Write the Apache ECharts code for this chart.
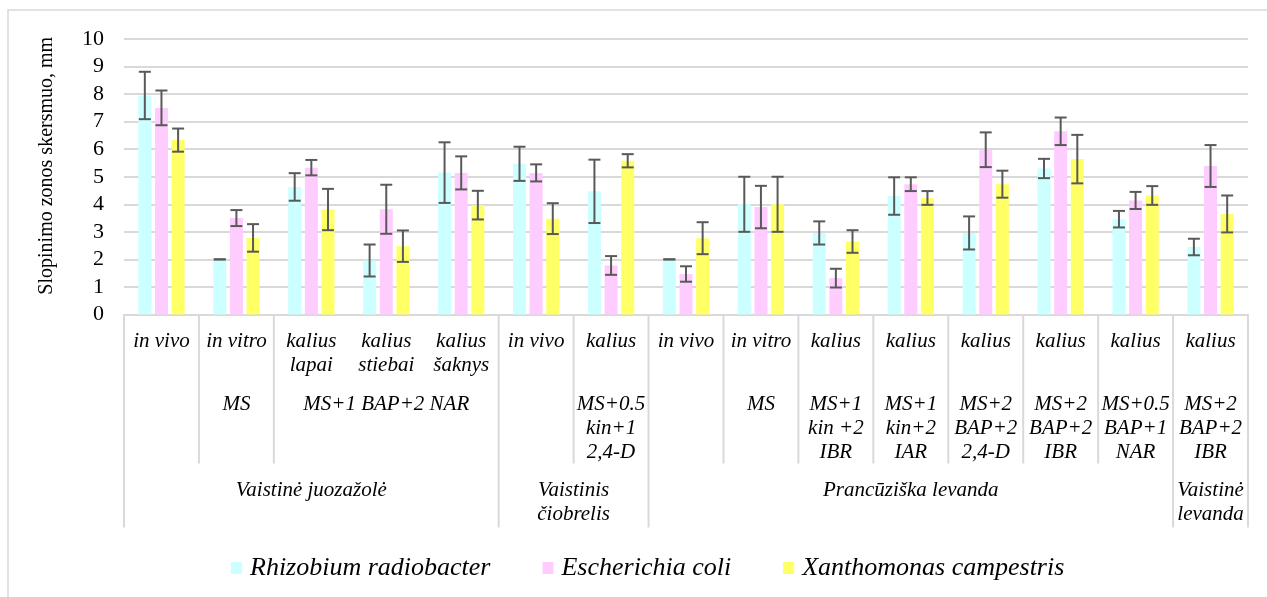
<!DOCTYPE html>
<html>
<head>
<meta charset="utf-8">
<script src="https://cdn.jsdelivr.net/npm/echarts@6/dist/echarts.min.js"></script>
<style>
  html, body { margin: 0; padding: 0; background: #fff; }
  #chart { width: 1267px; height: 597px; }
</style>
</head>
<body>
<div id="chart"></div>
<script>
// Inhibition zone diameters (mm) with standard deviations, three bacteria per sample.
const categories = ['in vivo', 'in vitro', 'kalius\nlapai', 'kalius\nstiebai', 'kalius\nšaknys',
  'in vivo', 'kalius', 'in vivo', 'in vitro', 'kalius', 'kalius', 'kalius', 'kalius', 'kalius', 'kalius'];

// Second label row (growth medium) and how many samples each label spans
const level2Labels = ['', 'MS', 'MS+1 BAP+2 NAR', '', 'MS+0.5\nkin+1\n2,4-D', '', 'MS',
  'MS+1\nkin +2\nIBR', 'MS+1\nkin+2\nIAR', 'MS+2\nBAP+2\n2,4-D', 'MS+2\nBAP+2\nIBR',
  'MS+0.5\nBAP+1\nNAR', 'MS+2\nBAP+2\nIBR'];
const level2Spans = [1, 1, 3, 1, 1, 1, 1, 1, 1, 1, 1, 1, 1];

// Third label row (plant species)
const level3Labels = ['Vaistinė juozažolė', 'Vaistinis\nčiobrelis', 'Prancūziška levanda', 'Vaistinė\nlevanda'];
const level3Spans = [5, 2, 7, 1];

const seriesNames = ['Rhizobium radiobacter', 'Escherichia coli', 'Xanthomonas campestris'];
const yTitle = 'Slopinimo zonos skersmuo, mm';

const rhizobiumMean = [7.95, 2.0, 4.63, 1.96, 5.15, 5.47, 4.47, 2.0, 4.0, 2.96, 4.3, 2.96, 5.3, 3.46, 2.45];
const rhizobiumErr  = [0.86, 0, 0.5, 0.58, 1.1, 0.62, 1.15, 0, 1.0, 0.42, 0.68, 0.6, 0.35, 0.3, 0.3];

const ecoliMean = [7.5, 3.5, 5.33, 3.82, 5.14, 5.14, 1.78, 1.47, 3.9, 1.32, 4.73, 5.98, 6.65, 4.14, 5.39];
const ecoliErr  = [0.63, 0.29, 0.28, 0.89, 0.6, 0.31, 0.34, 0.28, 0.77, 0.34, 0.25, 0.63, 0.5, 0.31, 0.76];

const xanthoMean = [6.33, 2.78, 3.81, 2.48, 3.97, 3.48, 5.58, 2.77, 4.0, 2.65, 4.23, 4.73, 5.64, 4.32, 3.65];
const xanthoErr  = [0.42, 0.5, 0.75, 0.57, 0.52, 0.56, 0.24, 0.58, 1.0, 0.41, 0.25, 0.49, 0.88, 0.34, 0.67];

const yTicks = [0, 10, 1]; // min, max, step

const means = [rhizobiumMean, ecoliMean, xanthoMean];
const errs = [rhizobiumErr, ecoliErr, xanthoErr];
const colors = ['#CCFFFF', '#FFCCFF', '#FFFF66'];

const BAR_W = 13;
const BAR_GAP = 0.28;
const STEP = BAR_W * (1 + BAR_GAP);
const FONT = 'Liberation Serif';
const GRID_COLOR = '#d9d9d9';

const chart = echarts.init(document.getElementById('chart'), null, { renderer: 'canvas' });

const barSeries = seriesNames.map((name, s) => ({
  name: name,
  type: 'bar',
  data: means[s],
  barWidth: BAR_W,
  barGap: (BAR_GAP * 100) + '%',
  itemStyle: { color: colors[s] },
  emphasis: { disabled: true },
  z: 2
}));

// error bars (± SD) centred on each bar
const errSeries = seriesNames.map((name, s) => ({
  name: name + ' SD',
  type: 'custom',
  data: means[s].map((m, i) => [i, m, errs[s][i]]),
  z: 5,
  silent: true,
  renderItem: function (params, api) {
    const i = api.value(0), m = api.value(1), e = api.value(2);
    const x = api.coord([i, m])[0] + (s - 1) * STEP;
    const yTop = api.coord([i, m + e])[1];
    const yBot = api.coord([i, m - e])[1];
    const half = 6;
    const style = { stroke: '#595959', lineWidth: 2 };
    return {
      type: 'group',
      children: [
        { type: 'line', shape: { x1: x, y1: yTop, x2: x, y2: yBot }, style: style },
        { type: 'line', shape: { x1: x - half, y1: yTop, x2: x + half, y2: yTop }, style: style },
        { type: 'line', shape: { x1: x - half, y1: yBot, x2: x + half, y2: yBot }, style: style }
      ]
    };
  }
}));

chart.setOption({
  animation: false,
  backgroundColor: '#ffffff',
  textStyle: { fontFamily: FONT },
  grid: { left: 124, right: 19, top: 39, bottom: 282.5 },
  legend: {
    data: seriesNames,
    left: 226,
    top: 550,
    icon: 'rect',
    itemWidth: 11,
    itemHeight: 12,
    itemGap: 52,
    selectedMode: false,
    textStyle: { fontFamily: FONT, fontSize: 26, fontStyle: 'italic', color: '#000', padding: [0, 0, 0, 3] }
  },
  xAxis: {
    type: 'category',
    data: categories,
    axisLine: { lineStyle: { color: GRID_COLOR, width: 2 } },
    axisTick: { show: false },
    axisLabel: {
      interval: 0, margin: 15, color: '#000', fontFamily: FONT,
      fontSize: 21, fontStyle: 'italic', lineHeight: 24, verticalAlign: 'top'
    }
  },
  yAxis: {
    type: 'value',
    min: yTicks[0], max: yTicks[1], interval: yTicks[2],
    axisLine: { show: false },
    axisTick: { show: false },
    axisLabel: { color: '#000', fontFamily: FONT, fontSize: 22, margin: 20 },
    splitLine: { lineStyle: { color: GRID_COLOR, width: 2 } }
  },
  series: barSeries.concat(errSeries)
});

// Multi-level category table under the x axis
const cx = i => chart.convertToPixel({ xAxisIndex: 0 }, i);
const band = cx(1) - cx(0);
const edge = k => cx(0) - band / 2 + k * band;
const y0 = chart.convertToPixel({ yAxisIndex: 0 }, 0);
const y10 = chart.convertToPixel({ yAxisIndex: 0 }, yTicks[1]);

const ROW2_TOP = y0 + 78;
const ROW2_BOTTOM = y0 + 149;
const ROW3_TOP = y0 + 164;
const ROW3_BOTTOM = y0 + 213;

function boundaries(spans) {
  const b = [0];
  spans.forEach(n => b.push(b[b.length - 1] + n));
  return b;
}
const b2 = boundaries(level2Spans);
const b3 = boundaries(level3Spans);

const graphics = [];

// chart frame
graphics.push({
  type: 'rect', silent: true, z: -1,
  shape: { x: 8, y: 10, width: 1300, height: 700 },
  style: { fill: null, stroke: GRID_COLOR, lineWidth: 1.5 }
});

// value axis title, rotated to read bottom-up
graphics.push({
  type: 'text', silent: true,
  x: 47, y: (y0 + y10) / 2 - 11,
  rotation: Math.PI / 2,
  style: {
    text: yTitle, fill: '#000', fontFamily: FONT, fontSize: 20,
    align: 'center', verticalAlign: 'middle'
  }
});

for (let k = 0; k <= categories.length; k++) {
  let bottom = null;
  if (b3.indexOf(k) >= 0) bottom = ROW3_BOTTOM;
  else if (b2.indexOf(k) >= 0) bottom = ROW2_BOTTOM;
  if (bottom === null) continue;
  const x = edge(k);
  graphics.push({
    type: 'line', silent: true,
    shape: { x1: x, y1: y0, x2: x, y2: bottom },
    style: { stroke: GRID_COLOR, lineWidth: 2 }
  });
}

function addLabels(labels, b, top) {
  labels.forEach((t, j) => {
    if (!t) return;
    const x = (edge(b[j]) + edge(b[j + 1])) / 2;
    graphics.push({
      type: 'text', silent: true,
      x: x, y: top,
      style: {
        text: t, fill: '#000',
        fontFamily: FONT, fontSize: 21, fontStyle: 'italic', lineHeight: 24,
        align: 'center', verticalAlign: 'top'
      }
    });
  });
}
addLabels(level2Labels, b2, ROW2_TOP);
addLabels(level3Labels, b3, ROW3_TOP);

chart.setOption({ graphic: graphics });
</script>
</body>
</html>
